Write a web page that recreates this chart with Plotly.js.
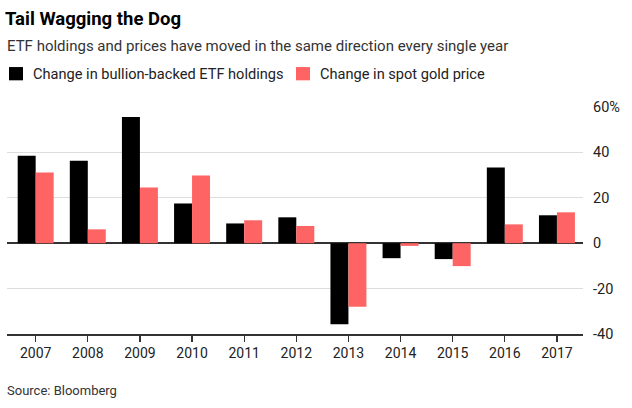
<!DOCTYPE html>
<html>
<head>
<meta charset="utf-8">
<script src="https://cdn.plot.ly/plotly-3.0.1.min.js"></script>
<style>html,body{margin:0;padding:0;background:#fff;}#chart{width:632px;height:408px;}</style>
</head>
<body>
<div id="chart"></div>
<script>
const years = ['2007','2008','2009','2010','2011','2012','2013','2014','2015','2016','2017'];
const etfChange = [38.5, 36.3, 55.6, 17.5, 8.7, 11.4, -35.7, -6.6, -7.0, 33.3, 12.3];
const goldChange = [31.1, 6.1, 24.5, 29.8, 10.1, 7.6, -28.0, -1.2, -10.1, 8.3, 13.6];
const yTickVals = [-40, -20, 0, 20, 40, 60];
const yTickText = ['-40', '-20', '0', '20', '40', '60%'];
const seriesNames = ['Change in bullion-backed ETF holdings', 'Change in spot gold price'];
const seriesColors = ['#000000', '#ff6464'];

const FONT = 'Roboto, "Liberation Sans", Arial, sans-serif';

const traces = [
  {type: 'bar', name: seriesNames[0], x: years, y: etfChange,
   marker: {color: seriesColors[0]}, hoverinfo: 'x+y'},
  {type: 'bar', name: seriesNames[1], x: years, y: goldChange,
   marker: {color: seriesColors[1]}, hoverinfo: 'x+y'}
];

// legend drawn as key squares + labels in the header band
const legendSquares = [[0.00347, 0.02775], [0.5017, 0.5260]];
const legendTextX = [0.0416, 0.5404];
const legendY = [1.1175, 1.176];

const shapes = legendSquares.map((s, i) => ({
  type: 'rect', xref: 'paper', yref: 'paper', x0: s[0], x1: s[1], y0: legendY[0], y1: legendY[1],
  fillcolor: seriesColors[i], line: {width: 0}
}));

const legendLabels = seriesNames.map((n, i) => ({
  text: n, xref: 'paper', yref: 'paper', x: legendTextX[i], y: (legendY[0] + legendY[1]) / 2,
  xanchor: 'left', yanchor: 'middle', showarrow: false,
  font: {family: FONT, size: 14.6, color: '#222'}
}));

const layout = {
  width: 632, height: 408,
  margin: {l: 6.7, r: 48.7, t: 106.7, b: 74, pad: 0},
  paper_bgcolor: '#ffffff', plot_bgcolor: '#ffffff',
  font: {family: FONT, size: 14, color: '#222'},
  barmode: 'group', bargap: 0.31, bargroupgap: 0,
  title: {text: '<b>Tail Wagging the Dog</b>', x: 5/632, xanchor: 'left', xref: 'container',
          y: 1 - 18.5/408, yanchor: 'middle', yref: 'container',
          font: {family: FONT, size: 18.5, color: '#000'}},
  showlegend: false,
  xaxis: {type: 'category', range: [-0.55, 10.5], showgrid: false, zeroline: false,
          showline: true, linecolor: '#333', linewidth: 1.5,
          ticks: 'outside', ticklen: 6, tickwidth: 1.2, tickcolor: '#333',
          tickfont: {family: FONT, size: 14, color: '#222'}, fixedrange: true},
  yaxis: {side: 'right', range: [-40, 60], tickvals: yTickVals, ticktext: yTickText,
          showgrid: true, gridcolor: '#dddddd', gridwidth: 1,
          zeroline: true, zerolinecolor: '#333', zerolinewidth: 1.5,
          showline: false, ticks: '', ticklabelstandoff: 9,
          tickfont: {family: FONT, size: 14.5, color: '#222'}, fixedrange: true},
  shapes: shapes,
  annotations: [
    {text: 'ETF holdings and prices have moved in the same direction every single year',
     xref: 'paper', yref: 'paper', x: -0.003, y: 1.2693, xanchor: 'left', yanchor: 'middle',
     showarrow: false, font: {family: FONT, size: 15, color: '#333'}},
    {text: 'Source: Bloomberg', xref: 'paper', yref: 'paper', x: -0.003, y: -0.2508,
     xanchor: 'left', yanchor: 'middle', showarrow: false,
     font: {family: FONT, size: 13, color: '#333'}}
  ].concat(legendLabels)
};

Plotly.newPlot('chart', traces, layout, {displayModeBar: false, staticPlot: true});
</script>
</body>
</html>
